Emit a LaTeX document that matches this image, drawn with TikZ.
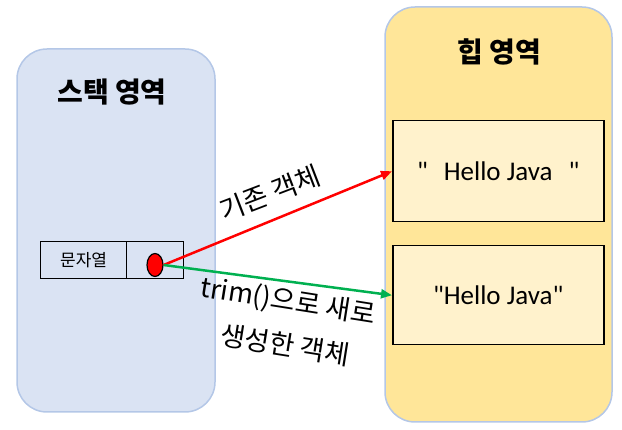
\documentclass[tikz,border=0pt]{standalone}
\usepackage{fontspec}
\setmainfont{Carlito}[Ligatures=TeXOff]
\newfontfamily\kr{Noto Sans CJK KR}[Ligatures=TeXOff]
\usetikzlibrary{shapes.geometric,arrows.meta}
\definecolor{stackfill}{HTML}{DAE3F3}
\definecolor{regionborder}{HTML}{B4C7E7}
\definecolor{heapfill}{HTML}{FFE699}
\definecolor{objfill}{HTML}{FFF2CC}
\definecolor{greenline}{HTML}{00B050}
\tikzset{
  region/.style={draw=regionborder, line width=1.5pt, rounded corners=30pt},
  objbox/.style={draw=black, line width=1.5pt, fill=objfill},
  cell/.style={draw=black, line width=1.2pt, fill=stackfill},
  title/.style={font=\kr\bfseries\fontsize{28}{32}\selectfont},
  lbl/.style={font=\kr\fontsize{27}{31}\selectfont, inner sep=0pt},
  hello/.style={font=\fontsize{27}{31}\selectfont},
  ref/.style={line width=2.5pt, -{Triangle[length=11pt,width=9pt]}},
}
\begin{document}
\begin{tikzpicture}[x=1pt,y=-1pt]
\useasboundingbox (0,0) rectangle (622,430);
\draw[region, fill=stackfill] (17,49) rectangle (215,412);
\draw[region, fill=heapfill] (385,7) rectangle (612,422);
\node[title] (stacktitle) at (112,92) {스택 영역};
\node[title] (heaptitle) at (499,52) {힙 영역};
\node[cell, minimum width=86pt, minimum height=37pt, anchor=north west, inner sep=0pt] (strcell) at (40,241) {\kr\fontsize{17}{20}\selectfont 문자열};
\node[cell, minimum width=57pt, minimum height=37pt, anchor=north west, inner sep=0pt] (refcell) at (126,241) {};
\node[objbox, minimum width=211pt, minimum height=101pt, anchor=north west, inner sep=0pt, hello] (obj1) at (392,120) {"\hspace{16pt}Hello Java\hspace{16pt}"};
\node[objbox, minimum width=211pt, minimum height=99pt, anchor=north west, inner sep=0pt, hello] (obj2) at (392,245) {"Hello Java"};
\node[ellipse, draw=black, line width=1.2pt, fill=red, minimum width=16pt, minimum height=23pt, inner sep=0pt] (dot) at (155,265) {};
\draw[ref, red] (dot.east) -- (obj1.west);
\draw[ref, greenline] (dot.east) -- (obj2.west);
\node[lbl, rotate=21] (l1) at (270,193) {기존 객체};
\node[lbl, rotate=-9] (l2) at (288,302) {trim()으로 새로};
\node[lbl, rotate=-9] (l3) at (285,345) {생성한 객체};
\end{tikzpicture}
\end{document}
